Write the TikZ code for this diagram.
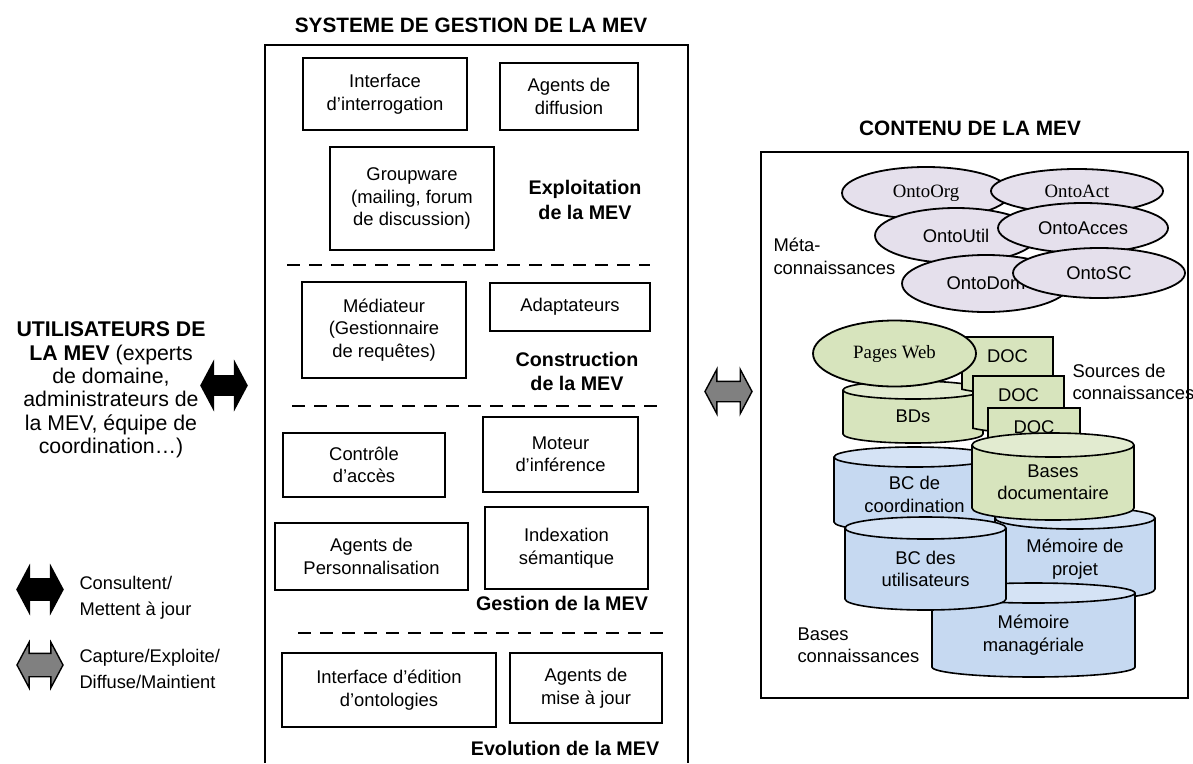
\documentclass[tikz,border=0pt]{standalone}
\usepackage{fontspec}
\setmainfont{Liberation Sans}
\newfontfamily\serifnames{Liberation Serif}
\usetikzlibrary{shapes.geometric,shapes.arrows}

\definecolor{ontofill}{HTML}{E5E0EC}
\definecolor{srcfill}{HTML}{D7E4BD}
\definecolor{srctop}{HTML}{E2EBD0}
\definecolor{kbfill}{HTML}{C6D9F1}
\definecolor{kbtop}{HTML}{D5E3F5}
\definecolor{flowgray}{HTML}{808080}

\newcommand\fbody{\fontsize{18.4}{22.5}\selectfont}
\newcommand\fusers{\fontsize{21.3}{23.3}\selectfont}
\newcommand\ftitle{\fontsize{20.8}{24}\selectfont\bfseries}
\newcommand\fsection{\fontsize{19.7}{24.5}\selectfont\bfseries}
\newcommand\flegend{\fontsize{18.3}{26}\selectfont}
\newcommand\fserif{\serifnames\fontsize{18.8}{22}\selectfont}

\tikzset{
  frame/.style={line width=2.2pt},
  comp/.style={draw, line width=1.8pt, align=center, font=\fbody, inner sep=0pt},
  section/.style={align=center, font=\fsection},
  sep/.style={line width=2.6pt, dash pattern=on 13pt off 9pt},
  onto/.style={ellipse, draw, line width=1.8pt, fill=ontofill, inner sep=0pt, font=\fbody},
  cylline/.style={line width=1.6pt},
  plain/.style={font=\fbody, align=center},
  flow/.style={double arrow, draw, line width=1.4pt, inner xsep=0pt,
    double arrow tip angle=124},
}

% cylinder: name, left x, right x, top y, bottom y, ellipse half-height,
% body fill, top fill, label
\newcommand\kbcyl[9]{%
  \pgfmathsetmacro\crx{(#3-#2)/2}\pgfmathsetmacro\ccx{(#2+#3)/2}%
  \fill[#7] (#2,#4+#6) -- (#2,#5-#6)
    arc[start angle=180, end angle=0, x radius=\crx pt, y radius=#6pt]
    -- (#3,#4+#6) -- cycle;
  \draw[cylline] (#2,#4+#6) -- (#2,#5-#6)
    arc[start angle=180, end angle=0, x radius=\crx pt, y radius=#6pt]
    -- (#3,#4+#6);
  \draw[cylline, fill=#8] (\ccx,#4+#6) ellipse[x radius=\crx pt, y radius=#6pt];
  \node[plain] (#1) at (\ccx,{(#4+#6+#5)/2}) {#9};
}

% document sheet with a wavy lower edge: name, x1, y1, x2, y2
\newcommand\docsheet[5]{%
  \pgfmathsetmacro\dh{#5-#3}\pgfmathsetmacro\dm{(#2+#4)/2}%
  \draw[cylline, fill=srcfill] (#2,#3) -- (#4,#3) -- (#4,#3+0.802*\dh)
    .. controls (\dm,#3+0.802*\dh) and (\dm,#3+1.107*\dh) .. (#2,#3+0.934*\dh)
    -- cycle;
  \node[font=\fbody] (#1) at (\dm,#3+19) {DOC};
}

\begin{document}
\begin{tikzpicture}[x=1pt, y=1pt, yscale=-1]
\useasboundingbox (0,0) rectangle (1193,763);

% ---------------- users and legend ----------------
\node[font=\fusers, align=center] (users) at (111,390)
  {\textbf{UTILISATEURS DE}\\\textbf{LA MEV} (experts\\de domaine,\\administrateurs de\\la MEV, équipe de\\coordination…)};
\node[flow, fill=black, minimum height=46pt, inner ysep=9pt,
      double arrow head extend=13.5pt] (consult) at (224,385.5) {};

\node[flow, fill=black, minimum height=46pt, inner ysep=10pt,
      double arrow head extend=12.5pt] (legconsult) at (40,589.5) {};
\node[font=\flegend, align=left, anchor=west] (legconsulttxt) at (76,597.5)
  {Consultent/\\Mettent à jour};
\node[flow, fill=flowgray, minimum height=46pt, inner ysep=11pt,
      double arrow head extend=11pt] (legcapture) at (40,665) {};
\node[font=\flegend, align=left, anchor=west] (legcapturetxt) at (76,668.5)
  {Capture/Exploite/\\Diffuse/Maintient};

% ---------------- management system ----------------
\node[font=\ftitle] (systitle) at (471,25) {SYSTEME DE GESTION DE LA MEV};
\coordinate (sysbl) at (265,763);
\coordinate (systl) at (265,45);
\coordinate (systr) at (688,45);
\coordinate (sysbr) at (688,763);
\draw[frame] (sysbl) -- (systl) -- (systr) -- (sysbr);

\node[comp, minimum width=164pt, minimum height=72pt] (interro) at (385,94) {Interface\\d’interrogation};
\node[comp, minimum width=138pt, minimum height=67pt] (diffusion) at (569,96.5) {Agents de\\diffusion};
\node[comp, minimum width=164pt, minimum height=103pt] (groupware) at (412,198.5) {Groupware\\(mailing, forum\\de discussion)};
\node[section] (exploit) at (585,200) {Exploitation\\de la MEV};

\coordinate (sep1a) at (287,265); \coordinate (sep1b) at (650,265);
\draw[sep] (sep1a) -- (sep1b);

\node[comp, minimum width=164pt, minimum height=96pt] (mediateur) at (384,330) {Médiateur\\(Gestionnaire\\de requêtes)};
\node[comp, minimum width=160pt, minimum height=48pt] (adapt) at (570,307) {Adaptateurs};
\node[section] (construct) at (577,371.5) {Construction\\de la MEV};

\coordinate (sep2a) at (292,406); \coordinate (sep2b) at (657,406);
\draw[sep] (sep2a) -- (sep2b);

\node[comp, minimum width=162pt, minimum height=64pt] (controle) at (364,465) {Contrôle\\d’accès};
\node[comp, minimum width=155pt, minimum height=75pt] (moteur) at (560.5,454.5) {Moteur\\d’inférence};
\node[comp, minimum width=163pt, minimum height=82pt] (indexation) at (566.5,548) {Indexation\\sémantique};
\node[comp, minimum width=193pt, minimum height=67pt] (perso) at (371.5,556.5) {Agents de\\Personnalisation};
\node[section] (gestion) at (562,603) {Gestion de la MEV};

\coordinate (sep3a) at (298,633); \coordinate (sep3b) at (663,633);
\draw[sep] (sep3a) -- (sep3b);

\node[comp, minimum width=214pt, minimum height=74pt] (edition) at (389,690) {Interface d’édition\\d’ontologies};
\node[comp, minimum width=152pt, minimum height=70pt] (majagents) at (586,688) {Agents de\\mise à jour};
\node[section] (evolution) at (565,748) {Evolution de la MEV};

% ---------------- exchange with the content ----------------
\node[flow, fill=flowgray, minimum height=47pt, inner ysep=9.5pt,
      double arrow head extend=12pt] (capture) at (728.5,391.5) {};

% ---------------- content ----------------
\node[font=\ftitle] (contitle) at (970,128) {CONTENU DE LA MEV};
\coordinate (contl) at (761,152);
\coordinate (conbr) at (1188,698);
\draw[frame] (contl) rectangle (conbr);

% ontologies
\node[onto, minimum width=168pt, minimum height=52pt, font=\fserif] (ontoorg) at (926,193) {OntoOrg};
\node[onto, minimum width=172pt, minimum height=44pt, font=\fserif] (ontoact) at (1077,191) {OntoAct};
\node[onto, minimum width=162pt, minimum height=55pt] (ontoutil) at (956,235.5) {OntoUtil};
\node[onto, minimum width=170pt, minimum height=50pt] (ontoacces) at (1083,228) {OntoAcces};
\node[onto, minimum width=168pt, minimum height=57pt] (ontodom) at (986,283.5) {OntoDom};
\node[onto, minimum width=172pt, minimum height=50pt] (ontosc) at (1099,273) {OntoSC};
\node[font=\fbody, align=left, anchor=west] (meta) at (770,256.5) {Méta-\\connaissances};

% knowledge sources
\kbcyl{bds}{843}{983}{381}{443}{9}{srcfill}{srctop}{BDs}
\docsheet{docone}{962}{337}{1053}{393}
\node[ellipse, draw, line width=1.8pt, fill=srcfill, inner sep=0pt,
      minimum width=163pt, minimum height=66pt, font=\fserif] (pagesweb) at (894.5,353.5) {Pages Web};
\docsheet{doctwo}{973}{376}{1064}{432}
\docsheet{docthree}{988}{408}{1080}{464}
\node[font=\fbody, align=left, anchor=west] (sources) at (1069,382) {Sources de\\connaissances};

% knowledge bases
\kbcyl{bccoord}{834}{995}{447}{532}{10}{kbfill}{kbtop}{BC de\\coordination}
\kbcyl{memproj}{995}{1155}{507}{600}{11}{kbfill}{kbtop}{Mémoire de\\projet}
\kbcyl{basesdoc}{972}{1134}{433}{520}{12}{srcfill}{srctop}{Bases\\documentaire}
\kbcyl{memman}{932}{1135}{583}{677}{10}{kbfill}{kbtop}{Mémoire\\managériale}
\kbcyl{bcutil}{845}{1006}{517}{610}{11}{kbfill}{kbtop}{BC des\\utilisateurs}
\node[font=\fbody, align=left, anchor=west] (baseslbl) at (794,645) {Bases\\connaissances};

\end{tikzpicture}
\end{document}
